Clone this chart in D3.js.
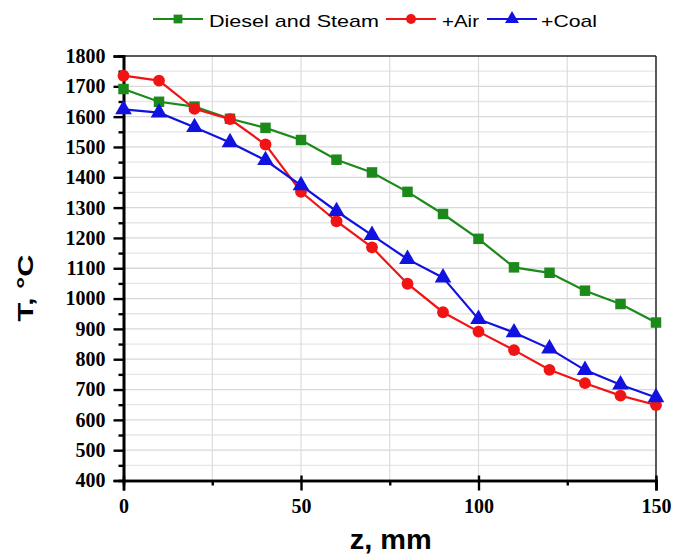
<!DOCTYPE html>
<html><head><meta charset="utf-8">
<script src="https://cdn.jsdelivr.net/npm/d3@7"></script>
<style>body{margin:0;background:#fff} .tk{font-family:"Liberation Serif","Times New Roman","DejaVu Serif",serif !important;font-weight:bold;font-size:20px}</style>
</head><body>
<svg id="c" width="674" height="555"></svg>
<script>
const zValues = [0,10,20,30,40,50,60,70,80,90,100,110,120,130,140,150];
const dieselSteam = [1691,1649,1633,1593,1563,1523,1458,1416,1352,1279,1197,1103,1085,1026,982,921];
const plusAir = [1735,1719,1626,1592,1508,1352,1255,1169,1049,955,891,830,765,721,680,649];
const plusCoal = [1624,1613,1565,1515,1456,1373,1288,1209,1130,1069,932,888,835,764,716,674];
const seriesNames = ["Diesel and Steam","+Air","+Coal"];
const xTicks = [0,50,100,150];
const yTicks = [400,500,600,700,800,900,1000,1100,1200,1300,1400,1500,1600,1700,1800];

const svg = d3.select("#c");
const L=123.5, R=656, T=56, B=480.5;
const x = d3.scaleLinear().domain([0,150]).range([L,R]);
const y = d3.scaleLinear().domain([400,1800]).range([B,T]);
const sans = "'Liberation Sans',Arial,sans-serif";

// grid
const g = svg.append("g");
g.selectAll(".hg").data(d3.range(450,1800,50)).join("line")
  .attr("x1",L).attr("x2",R).attr("y1",d=>y(d)).attr("y2",d=>y(d))
  .attr("stroke",d=>d%100===0?"#d8d8d8":"#e6e6e6").attr("stroke-width",1.3);
g.selectAll(".vg").data([25,50,75,100,125]).join("line")
  .attr("y1",T).attr("y2",B).attr("x1",d=>x(d)).attr("x2",d=>x(d))
  .attr("stroke","#dcdcdc").attr("stroke-width",1.2);

// frame top/right
svg.append("line").attr("x1",L).attr("x2",R).attr("y1",T).attr("y2",T).attr("stroke","#222").attr("stroke-width",1.5);
svg.append("line").attr("x1",R).attr("x2",R).attr("y1",T).attr("y2",B).attr("stroke","#222").attr("stroke-width",1.5);

// axes
const yAxis = d3.axisLeft(y).tickValues(yTicks).tickSize(10).tickPadding(8).tickFormat(d3.format("d"));
const yg = svg.append("g").attr("transform",`translate(${L},0)`).call(yAxis);
const yMinor = svg.append("g").attr("transform",`translate(${L},0)`).call(d3.axisLeft(y).tickValues(d3.range(450,1800,100)).tickSize(5).tickFormat(""));
const xAxis = d3.axisBottom(x).tickValues(xTicks).tickSize(10).tickPadding(8).tickFormat(d3.format("d"));
const xg = svg.append("g").attr("transform",`translate(0,${B})`).call(xAxis);
const xMinor = svg.append("g").attr("transform",`translate(0,${B})`).call(d3.axisBottom(x).tickValues([25,75,125]).tickSize(5).tickFormat(""));
xg.selectAll(".tick line").attr("y1",-5);
[yg,yMinor,xg,xMinor].forEach(a=>{
  a.attr("font-family",null).attr("font-size",null);
  a.select(".domain").attr("stroke","#000").attr("stroke-width",2.6);
  a.selectAll(".tick line").attr("stroke","#000").attr("stroke-width",2.4);
  a.selectAll("text").attr("class","tk").attr("fill","#000");
});

// axis titles
svg.append("text").attr("x",x(75)+1).attr("y",549).attr("text-anchor","middle")
  .style("font-family",sans).style("font-weight","bold").style("font-size","27px")
  .attr("textLength",82).attr("lengthAdjust","spacingAndGlyphs").text("z, mm");
svg.append("text").attr("transform",`translate(33,288) rotate(-90)`).attr("text-anchor","middle")
  .style("font-family",sans).style("font-weight","bold").style("font-size","22px")
  .attr("textLength",67).attr("lengthAdjust","spacingAndGlyphs").text("T, °C");

// series
const colors = ["#1b8a1b","#f01414","#1212e0"];
const data = [dieselSteam,plusAir,plusCoal];
const line = d3.line().x((d,i)=>x(zValues[i])).y(d=>y(d));
const symbols = [d3.symbolSquare,d3.symbolCircle,d3.symbolTriangle];
const sizes = [110,110,120];
data.forEach((vals,k)=>{
  svg.append("path").datum(vals).attr("d",line).attr("fill","none").attr("stroke",colors[k]).attr("stroke-width",2.2);
  svg.append("g").selectAll("path").data(vals).join("path")
    .attr("transform",(d,i)=>`translate(${x(zValues[i])},${y(d)})`)
    .attr("d",d3.symbol().type(symbols[k]).size(sizes[k])).attr("fill",colors[k]);
});

// legend
const legX = [153,386,487], legTX=[209,442,541], legW=[170,37,56];
seriesNames.forEach((n,k)=>{
  const lg = svg.append("g");
  lg.append("line").attr("x1",legX[k]).attr("x2",legX[k]+50).attr("y1",19).attr("y2",19).attr("stroke",colors[k]).attr("stroke-width",2.2);
  lg.append("path").attr("transform",`translate(${legX[k]+25},19)`).attr("d",d3.symbol().type(symbols[k]).size(sizes[k]*0.7)).attr("fill",colors[k]);
  lg.append("text").attr("x",legTX[k]).attr("y",27).style("font-family",sans).style("font-size","17px")
    .attr("textLength",legW[k]).attr("lengthAdjust","spacingAndGlyphs").text(n);
});
</script>
</body></html>
